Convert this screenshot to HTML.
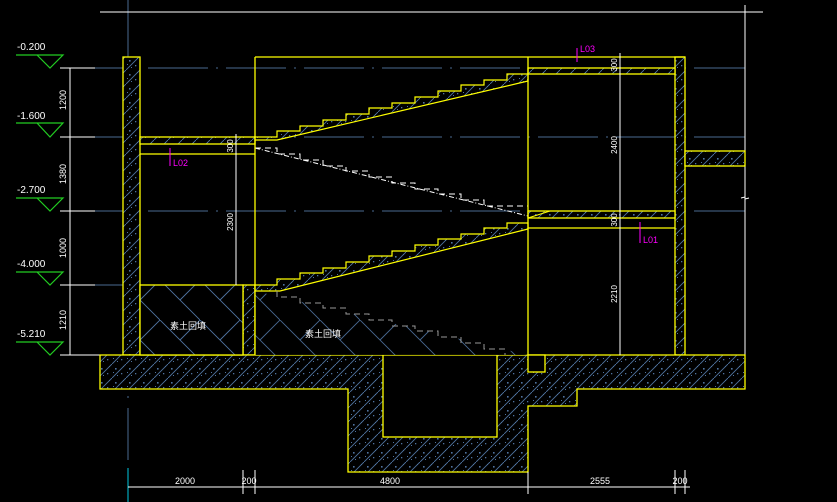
<!DOCTYPE html>
<html><head><meta charset="utf-8"><style>
html,body{margin:0;padding:0;background:#000;width:837px;height:502px;overflow:hidden}
svg{display:block}
text{font-family:"Liberation Sans","Noto Sans CJK SC",sans-serif}
</style></head><body>
<svg width="837" height="502" viewBox="0 0 837 502" xmlns="http://www.w3.org/2000/svg">
<defs>
<pattern id="h" width="14" height="14" patternUnits="userSpaceOnUse">
<rect width="14" height="14" fill="#000"/>
<line x1="0" y1="14" x2="14" y2="0" stroke="#4f73a0" stroke-width="0.9"/>
<rect x="3" y="4" width="1.6" height="1.6" fill="#4f73a0"/>
<rect x="9" y="9" width="1.3" height="1.3" fill="#4f73a0"/>
<rect x="11" y="2" width="1" height="1" fill="#4f73a0"/>
<rect x="5" y="11" width="1" height="1" fill="#4f73a0"/>
<rect x="1" y="8" width="1" height="1" fill="#4f73a0"/>
</pattern>
<pattern id="x" width="40" height="40" patternUnits="userSpaceOnUse">
<rect width="40" height="40" fill="#000"/>
<path d="M0 0L40 40M40 0L20 20" stroke="#4f73a0" stroke-width="0.9" fill="none"/>
</pattern>
</defs>
<g stroke="#4a6a90" stroke-width="1" stroke-dasharray="60,8,2,8">
<line x1="70" y1="68" x2="745" y2="68"/>
<line x1="70" y1="137" x2="745" y2="137"/>
<line x1="70" y1="211" x2="745" y2="211"/>
<line x1="70" y1="285" x2="255" y2="285"/>
</g>
<line x1="128" y1="0" x2="128" y2="460" stroke="#4a6a90" stroke-dasharray="80,10,2,10"/>
<line x1="128" y1="468" x2="128" y2="502" stroke="#00c8e0"/>
<line x1="100" y1="12" x2="763" y2="12" stroke="#fff"/>
<line x1="745" y1="5" x2="745" y2="355" stroke="#fff"/>
<path d="M741 198l4-1 0 2 4-1" stroke="#fff" fill="none"/>
<g stroke="#22cc22" fill="none" stroke-width="1.2">
<path d="M16 55H63L50 68L37 55"/><path d="M16 123H63L50 137L37 123"/><path d="M16 198H63L50 211L37 198"/><path d="M16 272H63L50 285L37 272"/><path d="M16 342H63L50 355L37 342"/>
</g>
<g fill="#fff" font-size="10">
<text x="17" y="50">-0.200</text><text x="17" y="119">-1.600</text><text x="17" y="193">-2.700</text><text x="17" y="267">-4.000</text><text x="17" y="337">-5.210</text>
</g>
<g stroke="#fff"><line x1="70" y1="68" x2="70" y2="355"/><line x1="60" y1="68" x2="95" y2="68"/><line x1="60" y1="137" x2="95" y2="137"/><line x1="60" y1="211" x2="95" y2="211"/><line x1="60" y1="285" x2="95" y2="285"/><line x1="60" y1="355" x2="100" y2="355"/></g>
<g fill="#fff" font-size="9">
<text transform="translate(66,100) rotate(-90)" text-anchor="middle">1200</text>
<text transform="translate(66,174) rotate(-90)" text-anchor="middle">1380</text>
<text transform="translate(66,248) rotate(-90)" text-anchor="middle">1000</text>
<text transform="translate(66,320) rotate(-90)" text-anchor="middle">1210</text>
</g>
<g fill="url(#h)" stroke="#ff0" stroke-width="1.3">
<rect x="123" y="57" width="17" height="298"/>
<rect x="675" y="57" width="10" height="298"/>
<rect x="140" y="137" width="115" height="7"/>
<rect x="528" y="68" width="147" height="6"/>
<rect x="528" y="211" width="147" height="7"/>
<rect x="685" y="151" width="60" height="15"/>
<rect x="243" y="285" width="12" height="70"/>
<path d="M100 355H745V389H577V406H528V472H348V389H100Z"/>
</g>
<rect x="140" y="285" width="103" height="70" fill="url(#x)" stroke="#ff0" stroke-width="1.3"/>
<rect x="383" y="355" width="114" height="82" fill="#000" stroke="#ff0" stroke-width="1.3"/>
<rect x="528" y="355" width="17" height="17" fill="#000" stroke="#ff0" stroke-width="1.3"/>
<path d="M255 291L528 355H255Z" fill="url(#x)" opacity="0.9"/>
<path d="M255 137H277V131H300V126H323V120H346V114H369V108H392V103H415V97H438V91H461V85H484V80H507V74H528V81L277 140H255Z" fill="url(#h)" stroke="#ff0" stroke-width="1.2"/>
<path d="M255 285H277V279H300V273H323V268H346V262H369V256H392V251H415V245H438V239H461V234H484V228H507V223H528V229L280 291H255Z" fill="url(#h)" stroke="#ff0" stroke-width="1.2"/>
<path d="M528 218L550 211H675" fill="none" stroke="#ff0"/>
<path d="M255 148H277V154H300V160H323V166H346V171H369V177H392V183H415V189H438V194H461V200H484V206H507V206H528" fill="none" stroke="#fff" stroke-dasharray="6,4"/>
<path d="M255 148L528 216" fill="none" stroke="#fff" stroke-dasharray="5,2,1,2"/>
<path d="M277 291V297H300V303H323V308H346V314H369V320H392V326H415V331H438V337H461V343H484V349H505V355" fill="none" stroke="#999" stroke-dasharray="6,4"/>
<g stroke="#ff0" stroke-width="1.3" fill="none">
<line x1="255" y1="57" x2="685" y2="57"/>
<line x1="255" y1="57" x2="255" y2="355"/>
<line x1="528" y1="57" x2="528" y2="355"/>
<line x1="140" y1="154" x2="255" y2="154"/>
<line x1="528" y1="228" x2="675" y2="228"/>
</g>
<g stroke="#fff"><line x1="236" y1="134" x2="236" y2="285"/><line x1="620" y1="53" x2="620" y2="355"/></g>
<g fill="#fff" font-size="8">
<text transform="translate(233,146) rotate(-90)" text-anchor="middle">300</text>
<text transform="translate(233,222) rotate(-90)" text-anchor="middle">2300</text>
<text transform="translate(617,65) rotate(-90)" text-anchor="middle">300</text>
<text transform="translate(617,145) rotate(-90)" text-anchor="middle">2400</text>
<text transform="translate(617,220) rotate(-90)" text-anchor="middle">300</text>
<text transform="translate(617,294) rotate(-90)" text-anchor="middle">2210</text>
</g>
<g fill="#fff" font-size="9"><text x="170" y="329">素土回填</text><text x="305" y="337">素土回填</text></g>
<g stroke="#f0f" fill="#f0f" font-size="9">
<line x1="170" y1="148" x2="170" y2="166"/><text x="173" y="166" stroke="none">L02</text>
<line x1="577" y1="48" x2="577" y2="62"/><text x="580" y="52" stroke="none">L03</text>
<line x1="640" y1="222" x2="640" y2="243"/><text x="643" y="243" stroke="none">L01</text>
</g>
<g stroke="#fff"><line x1="128" y1="487" x2="690" y2="487"/>
<line x1="243" y1="470" x2="243" y2="494"/><line x1="255" y1="470" x2="255" y2="494"/><line x1="528" y1="472" x2="528" y2="494"/><line x1="675" y1="470" x2="675" y2="494"/><line x1="685" y1="470" x2="685" y2="494"/></g>
<g fill="#fff" font-size="9" text-anchor="middle">
<text x="185" y="484">2000</text><text x="249" y="484">200</text><text x="390" y="484">4800</text><text x="600" y="484">2555</text><text x="680" y="484">200</text>
</g>
</svg>
</body></html>
